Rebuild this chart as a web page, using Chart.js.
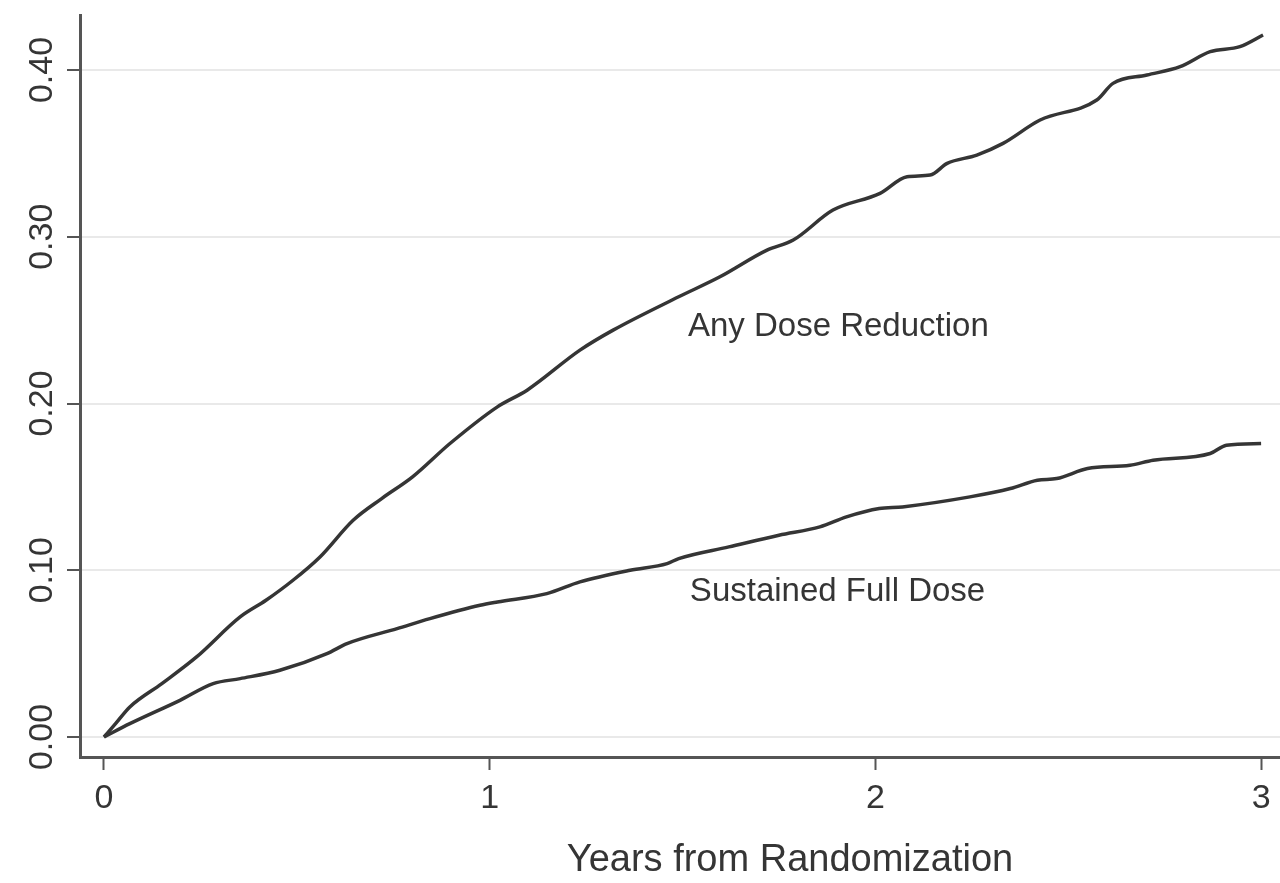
<!DOCTYPE html>
<html>
<head>
<meta charset="utf-8">
<title>Years from Randomization</title>
<script src="https://cdn.jsdelivr.net/npm/chart.js@4"></script>
<style>
  html, body { margin: 0; padding: 0; background: #ffffff; }
  #wrap { width: 1280px; height: 883px; position: relative; }
</style>
</head>
<body>
<div id="wrap"><canvas id="chart"></canvas></div>
<script>
// Cumulative incidence by years from randomization
const anyDoseYears = [0, 0.03, 0.067, 0.15, 0.24, 0.353, 0.42, 0.49, 0.56, 0.646, 0.72, 0.80, 0.897, 1.02, 1.097, 1.234, 1.32, 1.49, 1.597, 1.719, 1.787, 1.89, 2.012, 2.082, 2.142, 2.186, 2.263, 2.331, 2.427, 2.574, 2.616, 2.704, 2.79, 2.868, 2.945, 3.005];
const anyDoseValues = [0, 0.008, 0.018, 0.032, 0.048, 0.072, 0.082, 0.094, 0.108, 0.130, 0.143, 0.156, 0.176, 0.198, 0.208, 0.232, 0.244, 0.264, 0.276, 0.292, 0.298, 0.316, 0.326, 0.336, 0.337, 0.344, 0.349, 0.356, 0.370, 0.382, 0.392, 0.397, 0.402, 0.411, 0.414, 0.421];

const fullDoseYears = [0, 0.067, 0.197, 0.283, 0.353, 0.456, 0.578, 0.63, 0.76, 0.845, 0.975, 1.02, 1.148, 1.234, 1.364, 1.46, 1.49, 1.62, 1.75, 1.856, 1.925, 2.01, 2.07, 2.245, 2.35, 2.42, 2.47, 2.55, 2.66, 2.72, 2.868, 2.91, 3.0];
const fullDoseValues = [0, 0.008, 0.022, 0.032, 0.035, 0.040, 0.050, 0.056, 0.065, 0.071, 0.079, 0.081, 0.086, 0.093, 0.100, 0.104, 0.107, 0.114, 0.121, 0.126, 0.132, 0.137, 0.138, 0.144, 0.149, 0.154, 0.155, 0.161, 0.163, 0.166, 0.170, 0.175, 0.176];

const xTickValues = [0, 1, 2, 3];
const yTickValues = [0, 0.1, 0.2, 0.3, 0.4];

const seriesNames = ['Any Dose Reduction', 'Sustained Full Dose'];
// where each curve's name sits, in data units (years, proportion)
const nameAnchors = [[1.514, 0.246], [1.519, 0.087]];
const xAxisTitle = 'Years from Randomization';

const FONT = '"Liberation Sans", Arial, Helvetica, sans-serif';
const INK = '#353535';
const AXIS = '#555555';

const toPoints = (xs, ys) => xs.map((x, i) => ({ x: x, y: ys[i] }));

const textPlugin = {
  id: 'curveText',
  afterDraw(chart) {
    const { ctx, scales } = chart;
    ctx.save();
    ctx.fillStyle = INK;
    ctx.font = '33px ' + FONT;
    ctx.textAlign = 'left';
    ctx.textBaseline = 'middle';
    seriesNames.forEach((name, i) => {
      const [vx, vy] = nameAnchors[i];
      ctx.fillText(name, scales.x.getPixelForValue(vx), scales.y.getPixelForValue(vy));
    });
    ctx.font = '38px ' + FONT;
    ctx.textAlign = 'center';
    ctx.fillText(xAxisTitle, 790, 861);
    ctx.restore();
  }
};

const lineStyle = {
  borderColor: INK,
  borderWidth: 3.5,
  pointRadius: 0,
  cubicInterpolationMode: 'monotone'
};

new Chart(document.getElementById('chart'), {
  type: 'line',
  data: {
    datasets: [
      Object.assign({ label: seriesNames[0], data: toPoints(anyDoseYears, anyDoseValues) }, lineStyle),
      Object.assign({ label: seriesNames[1], data: toPoints(fullDoseYears, fullDoseValues) }, lineStyle)
    ]
  },
  options: {
    responsive: true,
    maintainAspectRatio: false,
    animation: false,
    layout: { padding: { top: 15, right: 0, left: 0, bottom: 0 } },
    plugins: {
      legend: { display: false },
      tooltip: { enabled: false }
    },
    scales: {
      x: {
        type: 'linear',
        min: -0.0622,
        max: 3.049,
        afterBuildTicks: (s) => { s.ticks = xTickValues.map(v => ({ value: v })); },
        afterFit: (s) => { s.height = 126; },
        border: { display: true, color: AXIS, width: 3 },
        grid: {
          drawOnChartArea: false,
          drawTicks: true,
          tickLength: 13,
          tickColor: AXIS,
          tickWidth: 2
        },
        ticks: {
          color: INK,
          font: { family: FONT, size: 34 },
          padding: 8,
          maxRotation: 0,
          callback: (v) => String(v)
        }
      },
      y: {
        type: 'linear',
        min: -0.012,
        max: 0.433,
        afterBuildTicks: (s) => { s.ticks = yTickValues.map(v => ({ value: v })); },
        afterFit: (s) => { s.width = 80; },
        border: { display: true, color: AXIS, width: 3 },
        grid: {
          drawOnChartArea: true,
          color: '#e9e9e9',
          lineWidth: 2,
          drawTicks: true,
          tickLength: 13,
          tickColor: AXIS,
          tickWidth: 2
        },
        ticks: {
          color: INK,
          font: { family: FONT, size: 34 },
          minRotation: 90,
          maxRotation: 90,
          crossAlign: 'center',
          padding: -9,
          callback: (v) => Number(v).toFixed(2)
        }
      }
    }
  },
  plugins: [textPlugin]
});
</script>
</body>
</html>
